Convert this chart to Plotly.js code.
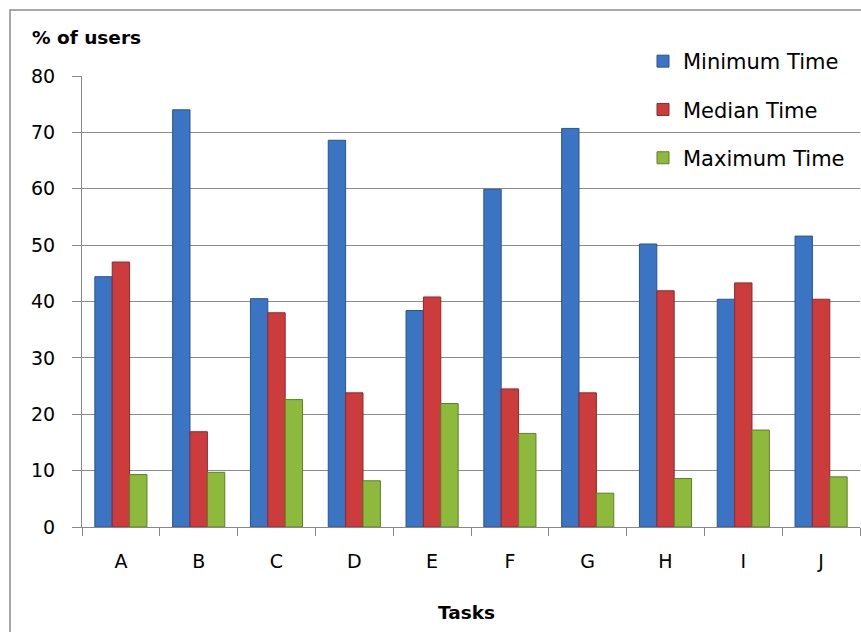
<!DOCTYPE html>
<html>
<head>
<meta charset="utf-8">
<script src="https://cdn.plot.ly/plotly-3.0.1.min.js"></script>
<style>html,body{margin:0;padding:0;background:#fff;}#chart{width:861px;height:632px;}</style>
</head>
<body>
<div id="chart"></div>
<script>
const tasks = ["A","B","C","D","E","F","G","H","I","J"];
const minimumTime = [44.4, 74.0, 40.5, 68.6, 38.4, 59.9, 70.7, 50.2, 40.4, 51.6];
const medianTime  = [47.0, 16.9, 38.0, 23.8, 40.8, 24.5, 23.8, 41.9, 43.3, 40.4];
const maximumTime = [9.3, 9.7, 22.6, 8.2, 21.9, 16.6, 6.0, 8.6, 17.2, 8.9];
const yTicks = [0,10,20,30,40,50,60,70,80];

const FONT = "DejaVu Sans, Verdana, sans-serif";
function bar(name, y, color, line, group){
  return {type:"bar", name:name, x:tasks, y:y, legendgroup:group,
    marker:{color:color, line:{color:line, width:1}}};
}
const data = [
  bar("Minimum Time", minimumTime, "#3a74c2", "#2a5590", "g1"),
  bar("Median Time", medianTime, "#cc3c3c", "#8e2a2a", "g2"),
  bar("Maximum Time", maximumTime, "#8dba3c", "#5f7f26", "g3")
];
const L = 82, R = 860, T = 76, B = 527;
const W = R - L, H = B - T;
const px = v => (v - L) / W, py = v => (B - v) / H;
const layout = {
  width:861, height:632,
  margin:{l:L, r:861-R, t:T, b:632-B},
  paper_bgcolor:"#fff", plot_bgcolor:"#fff",
  font:{family:FONT, size:19, color:"#000"},
  barmode:"group", bargap:0.33, bargroupgap:0,
  showlegend:true,
  legend:{x:px(643), y:py(41), xanchor:"left", yanchor:"top",
    bgcolor:"rgba(0,0,0,0)", font:{family:FONT, size:21, color:"#000"},
    tracegroupgap:18, itemwidth:30},
  xaxis:{type:"category", showgrid:false, showline:true, linecolor:"#888", linewidth:1,
    ticks:"outside", tickson:"boundaries", ticklen:8, tickcolor:"#888",
    ticklabelstandoff:17, tickfont:{family:FONT, size:19}, fixedrange:true},
  yaxis:{range:[0,80], tickvals:yTicks, ticktext:yTicks.map(String),
    showgrid:true, gridcolor:"#8c8c8c", gridwidth:1, zeroline:false,
    showline:true, linecolor:"#888", linewidth:1,
    ticks:"outside", ticklen:9, tickcolor:"#888", ticklabelstandoff:13,
    tickfont:{family:FONT, size:19}, fixedrange:true},
  annotations:[
    {text:"<b>% of users</b>", xref:"paper", yref:"paper", x:px(30), y:py(37),
     xanchor:"left", yanchor:"middle", showarrow:false, font:{family:FONT, size:18.5, color:"#000"}},
    {text:"<b>Tasks</b>", xref:"paper", yref:"paper", x:px(466), y:py(612),
     xanchor:"center", yanchor:"middle", showarrow:false, font:{family:FONT, size:18.5, color:"#000"}}
  ],
  shapes:[
    {type:"rect", xref:"paper", yref:"paper", x0:px(10), x1:px(900), y0:py(700), y1:py(10),
     line:{color:"#8a8a8a", width:1.5}, fillcolor:"rgba(0,0,0,0)", layer:"below"}
  ]
};
Plotly.newPlot("chart", data, layout, {displayModeBar:false, staticPlot:true});
</script>
</body>
</html>
